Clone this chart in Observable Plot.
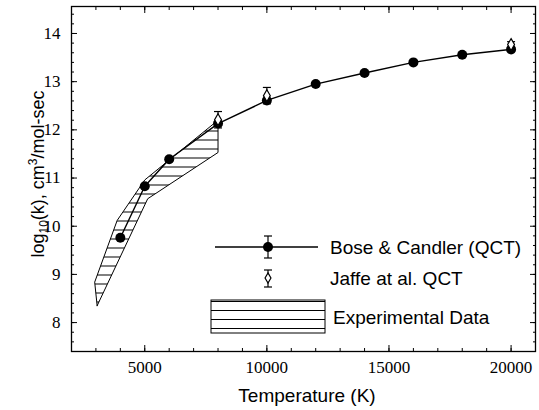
<!DOCTYPE html>
<html><head><meta charset="utf-8">
<script src="https://cdn.jsdelivr.net/npm/d3@7"></script>
<script src="https://cdn.jsdelivr.net/npm/@observablehq/plot@0.6"></script>
<style>body{margin:0;background:#fff} #chart{width:539px;height:410px}
#chart svg g[aria-label$="tick label"] text{font-family:"Liberation Serif","Times New Roman","DejaVu Serif",serif !important;font-size:17px !important}
</style>
</head><body><div id="chart"></div>
<script>
// Bose & Candler (QCT)
const boseT = [4000, 5000, 6000, 8000, 10000, 12000, 14000, 16000, 18000, 20000];
const boseLogK = [9.76, 10.83, 11.39, 12.13, 12.61, 12.95, 13.18, 13.40, 13.56, 13.67];
// Jaffe et al. QCT
const jaffeT = [8000, 10000, 20000];
const jaffeLogK = [12.21, 12.71, 13.77];
const jaffeErr = [0.17, 0.17, 0.06];
// Experimental data band (outline)
const expBandT = [3050, 2950, 3870, 5000, 8000, 8000, 5120, 3050];
const expBandLogK = [8.35, 8.84, 10.12, 10.96, 12.20, 11.53, 10.57, 8.35];
// ticks
const xTicks = [5000, 10000, 15000, 20000];
const xMinorTicks = [2000,3000,4000,5000,6000,7000,8000,9000,10000,11000,12000,13000,14000,15000,16000,17000,18000,19000,20000,21000];
const yTicks = [8, 9, 10, 11, 12, 13, 14];
const yMinorTicks = d3.range(38, 73).map(d => d / 5);
const legendLabels = ["Bose & Candler (QCT)", "Jaffe at al. QCT", "Experimental Data"];
const xTitle = "Temperature (K)";

const bose = boseT.map((T, i) => ({T, v: boseLogK[i]}));
const jaffe = jaffeT.map((T, i) => ({T, v: jaffeLogK[i], lo: jaffeLogK[i] - jaffeErr[i], hi: jaffeLogK[i] + jaffeErr[i]}));
const band = expBandT.map((T, i) => ({T, v: expBandLogK[i]}));

const cap = {draw(ctx) { ctx.moveTo(-4, 0); ctx.lineTo(4, 0); }};
const serif = "'Liberation Serif', 'Times New Roman', 'DejaVu Serif', serif";
const sans = "'Liberation Sans', Arial, sans-serif";

const plot = Plot.plot({
  width: 539, height: 410,
  marginLeft: 71, marginRight: 4, marginTop: 6, marginBottom: 59,
  x: {domain: [2000, 21000]},
  y: {domain: [7.4, 14.56]},
  style: {fontSize: "17px", color: "black", background: "white"},
  marks: [
    Plot.line(band, {x: "T", y: "v", fill: "url(#hatch)", stroke: "black", strokeWidth: 1}),
    Plot.line(bose, {x: "T", y: "v", stroke: "black", strokeWidth: 1.4}),
    Plot.ruleX(jaffe, {x: "T", y1: "lo", y2: "hi", stroke: "black", strokeWidth: 1.2}),
    Plot.dot(jaffe, {x: "T", y: "lo", symbol: cap, stroke: "black", strokeWidth: 1.2, fill: "none"}),
    Plot.dot(jaffe, {x: "T", y: "hi", symbol: cap, stroke: "black", strokeWidth: 1.2, fill: "none"}),
    Plot.dot(bose, {x: "T", y: "v", r: 5, fill: "black", stroke: "none"}),
    Plot.dot(jaffe, {x: "T", y: "v", r: 3.6, symbol: "diamond", fill: "white", stroke: "black", strokeWidth: 1.2}),
    Plot.axisX({ticks: xTicks, tickSize: -6, tickPadding: 15, tickFormat: d => String(d), label: null}),
    Plot.axisX({anchor: "top", ticks: xTicks, tickSize: -6, fill: "none", label: null}),
    Plot.axisX(xMinorTicks, {tickSize: -3, fill: "none", label: null}),
    Plot.axisX(xMinorTicks, {anchor: "top", tickSize: -3, fill: "none", label: null}),
    Plot.axisY({ticks: yTicks, tickSize: -6, tickPadding: 17, label: null}),
    Plot.axisY({anchor: "right", ticks: yTicks, tickSize: -6, fill: "none", label: null}),
    Plot.axisY(yMinorTicks, {tickSize: -3, fill: "none", label: null}),
    Plot.axisY(yMinorTicks, {anchor: "right", tickSize: -3, fill: "none", label: null}),
    Plot.frame({stroke: "black", strokeWidth: 1.3})
  ]
});

const svg = d3.select(plot);
svg.selectAll("text").style("font-family", serif).style("font-size", "17px");
const defs = svg.insert("defs", ":first-child");
const pat = defs.append("pattern").attr("id", "hatch").attr("patternUnits", "userSpaceOnUse")
  .attr("width", 10).attr("height", 9);
pat.append("line").attr("x1", 0).attr("x2", 10).attr("y1", 4.5).attr("y2", 4.5)
  .attr("stroke", "black").attr("stroke-width", 1);

// axis titles
svg.append("text").attr("x", 307).attr("y", 402).style("text-anchor", "middle")
  .style("font-family", sans).style("font-size", "19px").attr("fill", "black").text(xTitle);
const yt = svg.append("text").attr("transform", "translate(44,174) rotate(-90)")
  .style("text-anchor", "middle").style("font-family", sans).style("font-size", "18px").attr("fill", "black");
yt.append("tspan").text("log");
yt.append("tspan").attr("dy", 4).style("font-size", "12px").text("10");
yt.append("tspan").attr("dy", -4).text("(k), cm");
yt.append("tspan").attr("dy", -7).style("font-size", "12px").text("3");
yt.append("tspan").attr("dy", 7).text("/mol-sec");

// legend
const lg = svg.append("g").attr("stroke", "black").attr("fill", "none");
lg.append("line").attr("x1", 215).attr("x2", 318).attr("y1", 247).attr("y2", 247).attr("stroke-width", 1.4);
lg.append("line").attr("x1", 268).attr("x2", 268).attr("y1", 236).attr("y2", 258).attr("stroke-width", 1.2);
lg.append("line").attr("x1", 264).attr("x2", 272).attr("y1", 236).attr("y2", 236).attr("stroke-width", 1.2);
lg.append("line").attr("x1", 264).attr("x2", 272).attr("y1", 258).attr("y2", 258).attr("stroke-width", 1.2);
lg.append("circle").attr("cx", 268).attr("cy", 247).attr("r", 5).attr("fill", "black").attr("stroke", "none");
lg.append("line").attr("x1", 268).attr("x2", 268).attr("y1", 270).attr("y2", 287).attr("stroke-width", 1.2);
lg.append("line").attr("x1", 264).attr("x2", 272).attr("y1", 270).attr("y2", 270).attr("stroke-width", 1.2);
lg.append("line").attr("x1", 264).attr("x2", 272).attr("y1", 287).attr("y2", 287).attr("stroke-width", 1.2);
lg.append("path").attr("d", d3.symbol(d3.symbolDiamond, 30)()).attr("transform", "translate(268,278)")
  .attr("fill", "white").attr("stroke-width", 1.2);
lg.append("rect").attr("x", 211).attr("y", 300).attr("width", 114).attr("height", 33)
  .attr("fill", "url(#hatch)").attr("stroke-width", 1);
const lt = svg.append("g").style("font-family", sans).style("font-size", "19px").attr("fill", "black");
[[330, 247], [330, 278], [333, 317]].forEach(([x, y], i) => {
  lt.append("text").attr("x", x).attr("y", y).attr("dy", "0.35em").style("text-anchor", "start").text(legendLabels[i]);
});

document.getElementById("chart").appendChild(plot);
</script>
</body></html>
